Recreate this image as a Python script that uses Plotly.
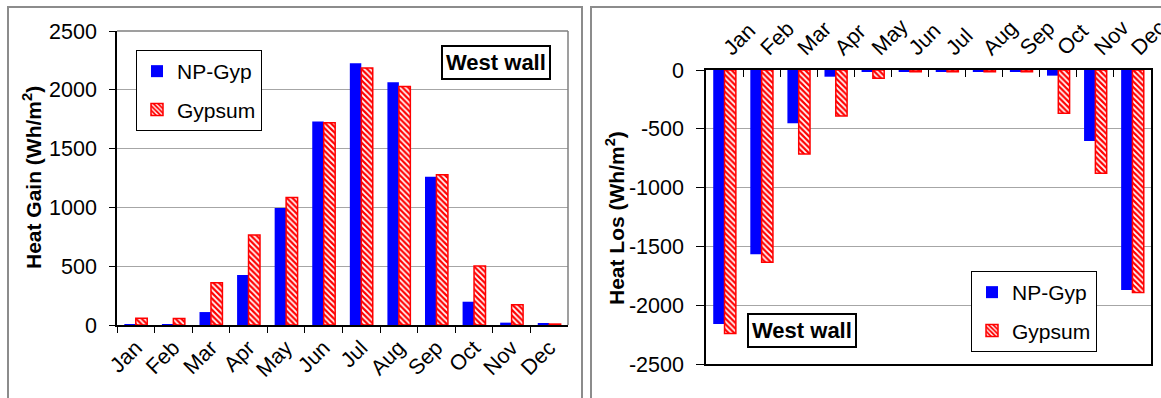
import plotly.graph_objects as go

months = ["Jan", "Feb", "Mar", "Apr", "May", "Jun", "Jul", "Aug", "Sep", "Oct", "Nov", "Dec"]
gain_np_gyp = [8, 8, 110, 425, 995, 1730, 2225, 2065, 1260, 198, 20, 11]
gain_gypsum = [57, 55, 360, 765, 1085, 1720, 2185, 2027, 1278, 502, 173, 8]
loss_np_gyp = [-2160, -1567, -453, -57, -12, -10, -10, -10, -10, -48, -604, -1871]
loss_gypsum = [-2240, -1635, -714, -391, -70, -15, -15, -15, -15, -368, -879, -1891]
gain_ticks = [0, 500, 1000, 1500, 2000, 2500]
loss_ticks = [0, -500, -1000, -1500, -2000, -2500]
loss_tick_text = ["0", "-500", "-1000", "-1500", "-2000", "-2500"]

W, H = 1161, 398
FONT = "Liberation Sans, Arial, sans-serif"


def px(x):
    return x / W


def py(y):
    return 1 - y / H


blue = "#0000FF"
red = "#FF0000"
pattern = dict(shape="\\", fillmode="replace", bgcolor=red, fgcolor="white", size=4, solidity=0.45)

fig = go.Figure()
fig.add_trace(go.Bar(x=months, y=gain_np_gyp, name="NP-Gyp", marker=dict(color=blue, line=dict(width=0)),
                     xaxis="x", yaxis="y", legend="legend", legendgroup="a"))
fig.add_trace(go.Bar(x=months, y=gain_gypsum, name="Gypsum", marker=dict(color=red, line=dict(color=red, width=1.5), pattern=pattern),
                     xaxis="x", yaxis="y", legend="legend", legendgroup="b"))
fig.add_trace(go.Bar(x=months, y=loss_np_gyp, name="NP-Gyp", marker=dict(color=blue, line=dict(width=0)),
                     xaxis="x2", yaxis="y2", legend="legend2", legendgroup="c"))
fig.add_trace(go.Bar(x=months, y=loss_gypsum, name="Gypsum", marker=dict(color=red, line=dict(color=red, width=1.5), pattern=pattern),
                     xaxis="x2", yaxis="y2", legend="legend2", legendgroup="d"))

tickfont = dict(family=FONT, size=21.5, color="black")
grid = "#A6A6A6"

fig.update_layout(
    width=W, height=H,
    margin=dict(l=0, r=0, t=0, b=0, autoexpand=False),
    paper_bgcolor="white", plot_bgcolor="white",
    barmode="group", bargap=0.39, bargroupgap=0,
    font=dict(family=FONT, size=21, color="black"),
    xaxis=dict(domain=[px(117), px(568)], anchor="y", type="category", tickangle=-45,
               tickson="boundaries", ticks="outside", ticklen=6, tickcolor="black",
               showline=True, linecolor="black", linewidth=1.5, tickfont=tickfont, showgrid=False,
               automargin=False),
    yaxis=dict(domain=[py(325), py(31)], anchor="x", range=[0, 2500], tickvals=gain_ticks,
               ticks="outside", ticklen=6, tickcolor="black", showline=True, linecolor="black",
               linewidth=1.5, showgrid=True, gridcolor=grid, gridwidth=1, tickfont=tickfont,
               zeroline=False, ticklabelstandoff=8, automargin=False),
    xaxis2=dict(domain=[px(706), px(1151)], anchor="y2", type="category", side="top", tickangle=-45,
                tickson="boundaries", ticks="inside", ticklen=7, tickcolor="black",
                showline=True, linecolor="black", linewidth=1.5, mirror=True, tickfont=tickfont,
                showgrid=False, automargin=False),
    yaxis2=dict(domain=[py(364), py(70)], anchor="x2", range=[-2500, 0], tickvals=loss_ticks,
                ticktext=loss_tick_text,
                ticks="outside", ticklen=8, tickcolor="black", showline=True, linecolor="black",
                linewidth=1.5, mirror=True, showgrid=True, gridcolor=grid, gridwidth=1, tickfont=tickfont,
                zeroline=False, ticklabelstandoff=8, automargin=False),
    legend=dict(x=px(136), y=py(50), xanchor="left", yanchor="top", bgcolor="white",
                bordercolor="black", borderwidth=1, font=dict(family=FONT, size=21),
                tracegroupgap=8, itemclick=False, itemwidth=30),
    legend2=dict(x=px(971), y=py(271), xanchor="left", yanchor="top", bgcolor="white",
                 bordercolor="black", borderwidth=1, font=dict(family=FONT, size=21),
                 tracegroupgap=8, itemclick=False, itemwidth=30),
    showlegend=True,
)

shapes = [
    dict(type="rect", xref="paper", yref="paper", x0=px(8), x1=px(582), y0=py(420), y1=py(7),
         line=dict(color="#8C8C8C", width=2)),
    dict(type="rect", xref="paper", yref="paper", x0=px(591), x1=px(1175), y0=py(420), y1=py(7),
         line=dict(color="#8C8C8C", width=2)),
    dict(type="line", xref="x domain", yref="y domain", x0=0, x1=1, y0=1, y1=1,
         line=dict(color="#7F7F7F", width=1.5)),
    dict(type="line", xref="x domain", yref="y domain", x0=1, x1=1, y0=0, y1=1,
         line=dict(color="#7F7F7F", width=1.5)),
]
fig.update_layout(shapes=shapes)

title_font = dict(family=FONT, size=21, color="black")
annotations = [
    dict(text="<b>Heat Gain (Wh/m<sup>2</sup>)</b>", xref="paper", yref="paper", x=px(32), y=py(178),
         textangle=-90, showarrow=False, xanchor="center", yanchor="middle", font=title_font),
    dict(text="<b>Heat Los (Wh/m<sup>2</sup>)</b>", xref="paper", yref="paper", x=px(615), y=py(218),
         textangle=-90, showarrow=False, xanchor="center", yanchor="middle", font=title_font),
    dict(text="<b>West wall</b>", xref="paper", yref="paper", x=px(496), y=py(63),
         showarrow=False, xanchor="center", yanchor="middle", bgcolor="white",
         bordercolor="black", borderwidth=2, borderpad=3, font=dict(family=FONT, size=22, color="black")),
    dict(text="<b>West wall</b>", xref="paper", yref="paper", x=px(802), y=py(330),
         showarrow=False, xanchor="center", yanchor="middle", bgcolor="white",
         bordercolor="black", borderwidth=2, borderpad=3, font=dict(family=FONT, size=22, color="black")),
]
fig.update_layout(annotations=annotations)

fig.write_html("out.html")
